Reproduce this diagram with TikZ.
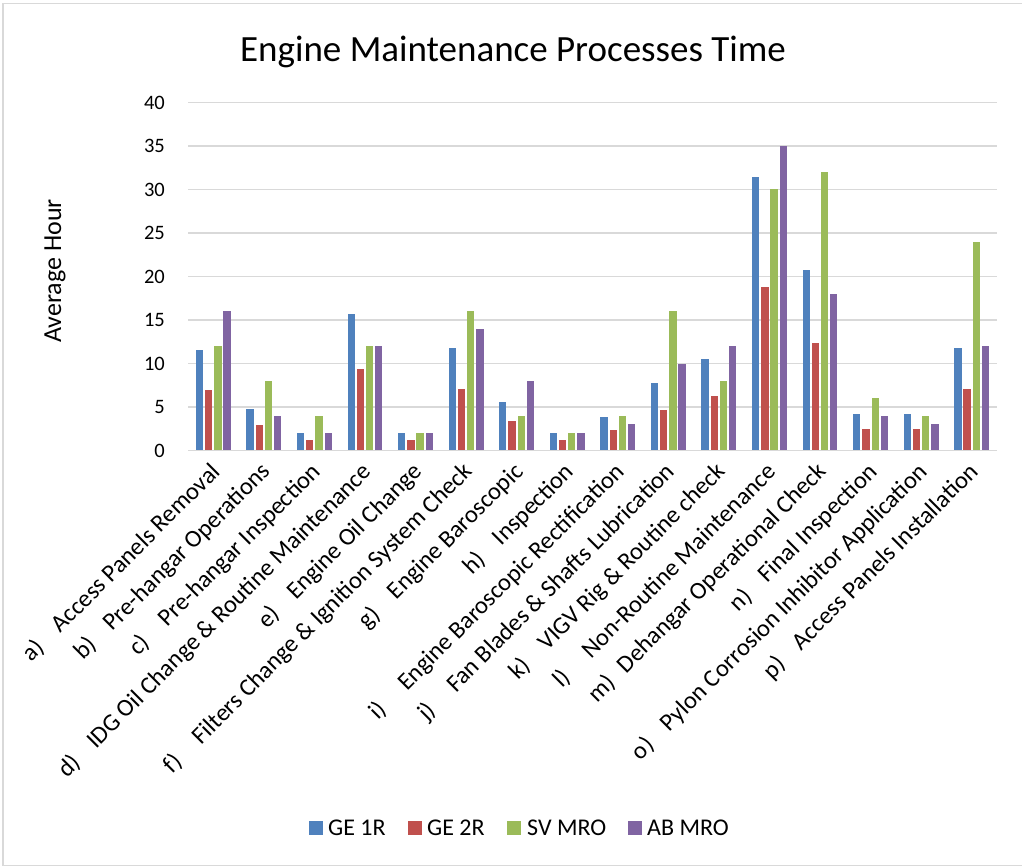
\documentclass[tikz,border=0pt]{standalone}
\usepackage{fontspec}
\setmainfont{Carlito}
\definecolor{s0}{HTML}{4F81BD}
\definecolor{s1}{HTML}{C0504D}
\definecolor{s2}{HTML}{9BBB59}
\definecolor{s3}{HTML}{8064A2}
\definecolor{gridcol}{HTML}{D9D9D9}
\tikzset{
  gridline/.style={draw=gridcol, line width=1.6pt},
  ticklbl/.style={font=\fontsize{20.5}{24}\selectfont, anchor=east, inner sep=0pt},
  catlbl/.style={font=\fontsize{24.5}{28}\selectfont, anchor=east, rotate=45, inner sep=0pt},
  legtxt/.style={font=\fontsize{24}{28}\selectfont, anchor=base west, inner sep=0pt},
  legbox/.style={minimum size=14pt, inner sep=0pt, anchor=south west},
}
\newcommand{\lab}[2]{\makebox[41pt][l]{#1)}#2}
\begin{document}
\begin{tikzpicture}[x=1pt,y=-1pt]
\useasboundingbox (0,0) rectangle (1022,866);
\fill[white] (0,0) rectangle (1022,866);
\draw[gridcol, line width=1.2pt] (3,3.5) rectangle (1040,865.5);
% gridlines and ticks
\foreach \v in {0,5,...,40}{
  \draw[gridline] (188,{450.5-\v*8.7}) -- (997,{450.5-\v*8.7});
  \node[ticklbl] (t\v) at (165,{450.5-\v*8.7}) {\v};
}
% bars
\foreach \vals [count=\i from 0] in {
  {11.5,6.9,12,16},{4.8,2.9,8,4},{2,1.2,4,2},{15.7,9.4,12,12},
  {2,1.2,2,2},{11.8,7.1,16,14},{5.6,3.4,4,8},{2,1.2,2,2},
  {3.9,2.3,4,3},{7.8,4.7,16,10},{10.5,6.3,8,12},{31.4,18.8,30,35},
  {20.7,12.4,32,18},{4.2,2.5,6,4},{4.2,2.5,4,3},{11.8,7.1,24,12}}{
  \foreach \v [count=\j from 0] in \vals {
    \pgfmathsetmacro{\bx}{188+(\i+0.5)*50.56+(\j-1.5)*9.2-3.65}
    \fill[s\j] (\bx,450) rectangle ++(7.3,{-\v*8.7+0.5});
  }
}
% category labels
\foreach \t [count=\i from 0] in {
  {\lab{a}{Access Panels Removal}},
  {\lab{b}{Pre-hangar Operations}},
  {\lab{c}{Pre-hangar Inspection}},
  {\lab{d}{IDG Oil Change \& Routine Maintenance}},
  {\lab{e}{Engine Oil Change}},
  {\lab{f}{Filters Change \& Ignition System Check}},
  {\lab{g}{Engine Baroscopic}},
  {\lab{h}{Inspection}},
  {\lab{i}{Engine Baroscopic Rectification}},
  {\lab{j}{Fan Blades \& Shafts Lubrication}},
  {\lab{k}{VIGV Rig \& Routine check}},
  {\lab{l}{Non-Routine Maintenance}},
  {\lab{m}{Dehangar Operational Check}},
  {\lab{n}{Final Inspection}},
  {\lab{o}{Pylon Corrosion Inhibitor Application}},
  {\lab{p}{Access Panels Installation}}}{
  \node[catlbl] (c\i) at ({188+(\i+0.5)*50.56+3},468) {\t};
}
% titles
\node[font=\fontsize{37}{42}\selectfont, anchor=base, inner sep=0pt] (title) at (513,62) {Engine Maintenance Processes Time};
\node[font=\fontsize{26}{30}\selectfont, rotate=90, inner sep=0pt] (ytitle) at (55,271) {Average Hour};
% legend
\node[legbox, fill=s0] (k0) at (309,835) {};
\node[legtxt] (l0) at (328,835) {GE 1R};
\node[legbox, fill=s1] (k1) at (408,835) {};
\node[legtxt] (l1) at (427,835) {GE 2R};
\node[legbox, fill=s2] (k2) at (507,835) {};
\node[legtxt] (l2) at (527,835) {SV MRO};
\node[legbox, fill=s3] (k3) at (628,835) {};
\node[legtxt] (l3) at (647,835) {AB MRO};
\end{tikzpicture}
\end{document}
